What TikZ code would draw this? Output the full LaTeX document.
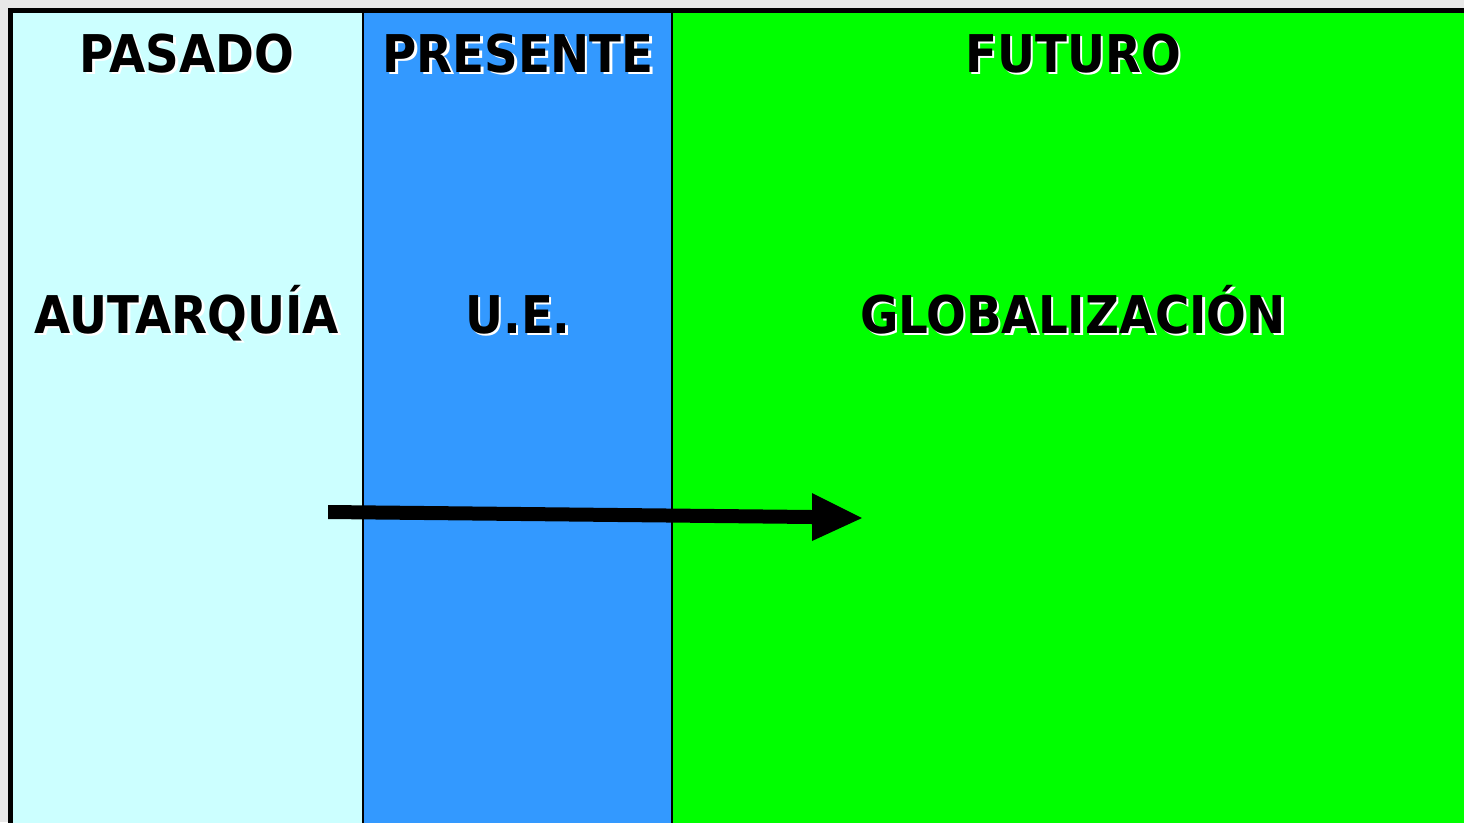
\documentclass[tikz,border=0pt]{standalone}
\usepackage{fontspec}
\usetikzlibrary{calc}
\setmainfont{DejaVu Sans Condensed}
\definecolor{bggrey}{HTML}{E8E8E8}
\definecolor{pastcol}{HTML}{CCFFFF}
\definecolor{presentcol}{HTML}{3399FF}
\definecolor{futurecol}{HTML}{00FF00}
\newcommand\shadowtext[1]{\rlap{\kern2.5pt\raisebox{-2.5pt}{\textcolor{white}{#1}}}\textcolor{black}{#1}}
\tikzset{
  lbl/.style={anchor=base, inner sep=0pt, font=\fontsize{52}{60}\selectfont\bfseries},
  divider/.style={draw=black, line width=2pt},
}
\begin{document}
\begin{tikzpicture}[x=1pt,y=-1pt]
\useasboundingbox (0,0) rectangle (1464,822);
\fill[bggrey] (0,0) rectangle (1464,822);
\fill[pastcol] (10,10) rectangle (363,830);
\fill[presentcol] (363,10) rectangle (672,830);
\fill[futurecol] (672,10) rectangle (1470,830);
\draw[divider] (363,10) -- (363,830);
\draw[divider] (672,10) -- (672,830);
\draw[line width=5pt] (10.5,840) -- (10.5,10.5) -- (1480,10.5);
\node[lbl] (pasado) at (187,72) {\shadowtext{PASADO}};
\node[lbl] (presente) at (518,72) {\shadowtext{PRESENTE}};
\node[lbl] (futuro) at (1073,72) {\shadowtext{FUTURO}};
\node[lbl] (autarquia) at (187,333) {\shadowtext{AUTARQUÍA}};
\node[lbl] (ue) at (518,333) {\shadowtext{U.E.}};
\node[lbl] (glob) at (1073,333) {\shadowtext{GLOBALIZACIÓN}};
\coordinate (as) at (328,512);
\coordinate (ab) at (812,517);
\coordinate (atip) at (862,518);
\fill[black] ($(as)+(0,-7)$) -- ($(ab)+(0,-7)$) -- ($(ab)+(0,-24)$) -- (atip) -- ($(ab)+(0,24)$) -- ($(ab)+(0,7)$) -- ($(as)+(0,7)$) -- cycle;
\end{tikzpicture}
\end{document}
